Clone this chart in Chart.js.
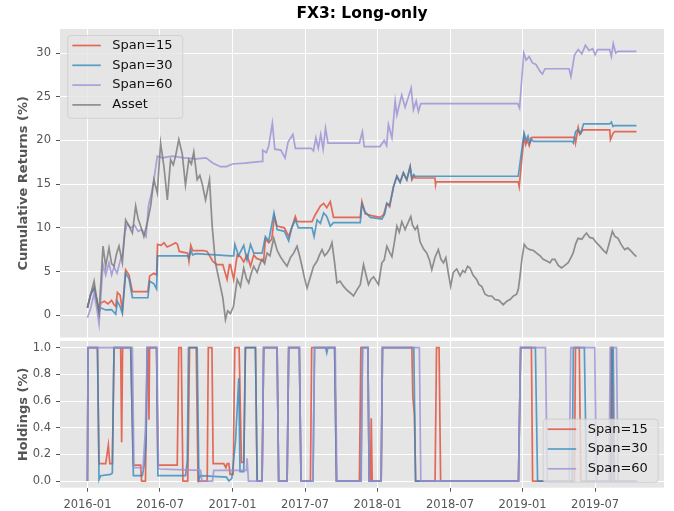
<!DOCTYPE html>
<html>
<head>
<meta charset="utf-8">
<title>FX3: Long-only</title>
<script src="https://cdn.jsdelivr.net/npm/chart.js@4.4.1/dist/chart.umd.min.js"></script>
<style>
  html, body { margin: 0; padding: 0; background: #ffffff; }
  #wrap { position: relative; width: 674px; height: 511px; }
  canvas { position: absolute; left: 0; }
  #returnsChart { top: 0; }
  #holdingsChart { top: 339px; }
</style>
</head>
<body>
<div id="wrap">
  <canvas id="returnsChart" width="674" height="339"></canvas>
  <canvas id="holdingsChart" width="674" height="172"></canvas>
</div>
<script>
// x values are months counted from 2016-01
const xTickMonths = [0, 6, 12, 18, 24, 30, 36, 42];
const xTickLabels = ['2016-01', '2016-07', '2017-01', '2017-07', '2018-01', '2018-07', '2019-01', '2019-07'];
const returnTicks = [0, 5, 10, 15, 20, 25, 30];
const holdingTicks = [0, 0.2, 0.4, 0.6, 0.8, 1.0];

// Cumulative returns (%)
const span15Returns = [
    [0, 0.85], [0.27, 2.4], [0.55, 3.2], [0.77, 1.8], [0.96, 0.3], [1.1, 1.4], [1.4, 1.6], [1.7, 1.3],
    [2.0, 1.7], [2.2, 1.2], [2.34, 1.0], [2.48, 2.6], [2.7, 2.3], [2.89, 0.6], [3.16, 5.2], [3.44, 4.6],
    [3.72, 2.7], [5.0, 2.7], [5.15, 4.5], [5.5, 4.8], [5.72, 4.6], [5.8, 8.1], [6.1, 8.0], [6.33, 8.3],
    [6.6, 7.8], [6.9, 8.0], [7.3, 8.3], [7.45, 8.1], [7.6, 7.3], [8.3, 7.1], [8.4, 6.2], [8.55, 8.0],
    [8.7, 7.4], [9.6, 7.4], [9.9, 7.3], [10.35, 6.2], [10.7, 5.8], [11.2, 5.8], [11.55, 4.1], [11.75, 5.8],
    [11.83, 5.8], [12.1, 4.1], [12.39, 6.9], [12.66, 6.7], [12.93, 6.1], [13.2, 6.9], [13.49, 5.6],
    [13.76, 6.9], [14.0, 6.5], [14.58, 6.2], [14.72, 8.7], [15.0, 8.3], [15.25, 8.7], [15.47, 11.3],
    [15.69, 10.2], [16.3, 10.0], [16.65, 9.0], [16.9, 10.0], [17.2, 11.3], [17.34, 10.7], [18.58, 10.7],
    [18.85, 11.5], [19.27, 12.5], [19.54, 12.8], [19.8, 12.3], [20.09, 13.0], [20.36, 11.2], [22.57, 11.2],
    [22.71, 13.0], [22.98, 11.6], [23.5, 11.4], [24.22, 11.2], [24.5, 11.5], [24.77, 12.8], [25.0, 12.4],
    [25.32, 14.7], [25.6, 15.9], [25.87, 15.2], [26.14, 16.3], [26.42, 15.5], [26.7, 17.0], [26.84, 15.5],
    [27.0, 15.9], [27.11, 15.7], [28.75, 15.7], [28.8, 14.9], [28.85, 15.25], [35.64, 15.25], [35.72, 14.7],
    [36.12, 20.5], [36.25, 19.5], [36.4, 20.0], [36.55, 19.4], [36.7, 20.3], [36.85, 20.35], [40.3, 20.35],
    [40.38, 19.7], [40.6, 21.5], [40.73, 20.7], [41.0, 21.2], [43.21, 21.2], [43.27, 20.1], [43.48, 20.8],
    [43.62, 21.0], [45.42, 21.0]
];
const span30Returns = [
    [0, 0.85], [0.27, 2.4], [0.55, 3.0], [0.77, 1.8], [0.96, 0.3], [1.1, 0.85], [1.5, 0.6], [2.0, 0.65],
    [2.34, 0.1], [2.48, 1.6], [2.7, 1.0], [2.89, 0.2], [3.16, 4.8], [3.44, 4.2], [3.72, 2.0], [5.0, 2.0],
    [5.15, 3.9], [5.5, 3.6], [5.72, 3.0], [5.8, 6.8], [8.25, 6.8], [8.4, 6.6], [8.55, 7.4], [8.7, 6.9],
    [9.0, 7.05], [11.83, 6.8], [12.1, 6.8], [12.2, 8.1], [12.5, 6.8], [12.93, 8.0], [13.2, 6.3], [13.49, 8.1],
    [13.76, 7.1], [14.45, 7.1], [14.72, 9.0], [15.0, 8.5], [15.43, 11.7], [15.69, 9.8], [16.3, 9.6],
    [16.65, 8.5], [16.9, 10.0], [17.2, 10.9], [17.45, 10.0], [18.58, 10.0], [18.75, 9.0], [19.0, 10.9],
    [19.27, 10.5], [19.54, 11.7], [19.8, 11.3], [20.09, 10.2], [20.36, 10.6], [22.57, 10.6], [22.71, 12.7],
    [22.98, 11.8], [23.4, 11.2], [24.36, 11.0], [24.6, 11.6], [24.77, 12.8], [25.0, 12.6], [25.32, 14.7],
    [25.6, 15.9], [25.87, 15.2], [26.14, 16.3], [26.42, 15.5], [26.7, 17.0], [26.84, 15.7], [27.0, 16.1],
    [27.11, 15.9], [35.64, 15.9], [36.12, 20.85], [36.3, 20.0], [36.45, 20.5], [36.6, 19.7], [36.75, 20.1],
    [36.9, 19.9], [40.1, 19.9], [40.2, 19.7], [40.38, 21.0], [40.55, 21.2], [40.8, 20.8], [41.05, 21.9],
    [43.21, 21.9], [43.35, 22.1], [43.48, 21.6], [43.6, 21.7], [45.42, 21.7]
];
const span60Returns = [
    [0, -0.3], [0.27, 0.8], [0.55, 2.5], [0.77, 0.8], [0.96, -1.0], [1.1, 2.0], [1.29, 5.8], [1.51, 4.6],
    [1.78, 6.0], [2.0, 4.6], [2.2, 5.5], [2.45, 4.8], [2.7, 6.2], [2.9, 7.0], [3.1, 9.5], [3.3, 10.5],
    [3.6, 10.0], [3.9, 10.3], [4.2, 9.6], [4.5, 9.8], [4.85, 9.0], [5.05, 12.5], [5.3, 14.0], [5.5, 15.5],
    [5.78, 18.2], [6.2, 18.0], [7.0, 18.2], [8.0, 18.0], [9.0, 17.9], [9.8, 18.0], [10.4, 17.4], [11.0, 17.0],
    [11.5, 17.0], [12.0, 17.3], [13.0, 17.4], [14.45, 17.6], [14.5, 18.9], [14.8, 18.6], [15.0, 19.4],
    [15.3, 22.0], [15.5, 19.0], [16.0, 18.9], [16.35, 18.0], [16.6, 19.8], [17.0, 20.7], [17.2, 19.1],
    [18.5, 19.1], [18.7, 18.8], [18.9, 20.3], [19.1, 19.1], [19.3, 20.7], [19.5, 19.0], [19.7, 21.4],
    [19.9, 19.7], [22.5, 19.7], [22.75, 21.0], [22.9, 19.3], [24.2, 19.3], [24.55, 20.0], [24.75, 19.4],
    [24.9, 21.8], [25.19, 20.3], [25.46, 24.5], [25.6, 22.9], [26.0, 25.2], [26.28, 23.8], [26.56, 25.0],
    [26.78, 26.0], [26.97, 23.5], [27.2, 24.5], [27.38, 23.3], [27.58, 24.2], [35.6, 24.2], [35.75, 23.7],
    [36.1, 30.0], [36.3, 29.2], [36.55, 29.6], [36.8, 28.9], [37.1, 28.7], [37.45, 27.9], [37.65, 27.6],
    [37.85, 28.2], [39.85, 28.2], [40.0, 27.3], [40.3, 29.8], [40.6, 30.4], [40.9, 29.9], [41.2, 30.9],
    [41.5, 30.3], [41.8, 30.5], [42.0, 29.8], [42.2, 30.4], [43.2, 30.4], [43.35, 29.6], [43.5, 31.1],
    [43.7, 30.0], [43.9, 30.2], [45.42, 30.2]
];
const assetReturns = [
    [0, 0.85], [0.27, 2.4], [0.55, 3.9], [0.77, 1.8], [0.96, 0.3], [1.29, 7.9], [1.51, 5.6], [1.78, 7.7],
    [2.0, 5.9], [2.2, 5.6], [2.4, 7.0], [2.61, 7.9], [2.89, 6.0], [3.16, 10.9], [3.44, 10.2], [3.72, 9.4],
    [3.99, 12.5], [4.2, 11.0], [4.4, 10.2], [4.67, 9.0], [5.0, 10.9], [5.23, 12.5], [5.5, 15.5], [5.78, 14.0],
    [6.05, 19.7], [6.33, 17.0], [6.61, 13.2], [6.88, 17.8], [7.1, 17.2], [7.29, 18.2], [7.56, 20.1],
    [7.84, 18.5], [8.11, 14.9], [8.39, 17.8], [8.6, 17.3], [8.8, 18.7], [9.08, 15.5], [9.3, 16.0], [9.5, 15.0],
    [9.77, 13.2], [10.1, 15.5], [10.32, 10.2], [10.59, 6.0], [11.0, 3.3], [11.2, 2.0], [11.42, -0.5],
    [11.6, 0.5], [11.83, 0.2], [12.08, 1.0], [12.39, 4.1], [12.66, 3.3], [12.93, 5.4], [13.15, 4.2],
    [13.34, 3.7], [13.55, 4.8], [13.76, 5.6], [14.04, 4.9], [14.25, 5.8], [14.45, 6.4], [14.66, 5.9],
    [14.86, 7.1], [15.1, 6.8], [15.41, 8.8], [15.7, 7.4], [15.96, 6.7], [16.2, 6.2], [16.51, 5.6],
    [16.8, 6.6], [17.06, 7.1], [17.34, 7.9], [17.55, 6.8], [17.75, 5.6], [17.95, 4.3], [18.17, 3.1],
    [18.45, 4.4], [18.71, 5.6], [19.0, 6.2], [19.2, 6.9], [19.41, 7.5], [19.62, 6.8], [19.82, 7.1],
    [20.05, 7.6], [20.23, 8.3], [20.45, 6.0], [20.64, 3.7], [20.9, 3.9], [21.19, 3.3], [21.45, 2.9],
    [21.7, 2.6], [22.01, 2.2], [22.3, 2.9], [22.57, 3.5], [22.84, 5.8], [23.05, 4.6], [23.25, 3.5],
    [23.45, 4.1], [23.67, 4.4], [23.9, 3.9], [24.08, 3.5], [24.36, 6.0], [24.55, 6.3], [24.77, 7.9],
    [25.0, 7.2], [25.19, 6.7], [25.4, 8.4], [25.6, 10.2], [25.8, 9.5], [26.01, 10.7], [26.28, 9.8],
    [26.5, 10.5], [26.75, 11.3], [26.9, 10.3], [27.11, 9.8], [27.3, 10.2], [27.52, 8.4], [27.8, 7.6],
    [28.08, 7.1], [28.3, 6.3], [28.49, 5.2], [28.75, 6.6], [29.03, 7.5], [29.25, 6.4], [29.45, 6.0],
    [29.65, 6.6], [29.86, 4.8], [30.05, 3.3], [30.27, 4.9], [30.55, 5.3], [30.83, 4.5], [31.05, 5.1],
    [31.24, 4.9], [31.45, 5.6], [31.65, 5.4], [31.9, 4.6], [32.2, 4.1], [32.4, 3.5], [32.62, 3.3],
    [32.9, 2.4], [33.16, 2.2], [33.45, 2.2], [33.72, 1.8], [34.05, 1.7], [34.4, 1.2], [34.7, 1.6],
    [34.96, 1.8], [35.25, 2.2], [35.51, 2.4], [35.65, 3.0], [35.79, 4.5], [35.95, 6.5], [36.14, 8.1],
    [36.35, 7.7], [36.61, 7.5], [36.9, 7.4], [37.16, 7.1], [37.45, 6.8], [37.7, 6.4], [38.0, 6.2],
    [38.26, 6.0], [38.45, 6.4], [38.67, 6.4], [38.95, 5.7], [39.22, 5.4], [39.5, 5.7], [39.77, 6.0],
    [40.0, 6.6], [40.18, 7.1], [40.4, 8.2], [40.59, 8.8], [40.9, 8.7], [41.1, 9.1], [41.29, 9.4],
    [41.55, 8.9], [41.83, 8.8], [42.1, 8.3], [42.39, 7.9], [42.7, 7.4], [42.94, 7.1], [43.2, 8.4],
    [43.43, 9.6], [43.65, 9.0], [43.9, 8.8], [44.15, 8.1], [44.45, 7.5], [44.7, 7.7], [45.0, 7.3],
    [45.2, 7.0], [45.42, 6.7]
];

// Holdings (0..1)
const span15Holdings = [
    [0, 0], [0.05, 1], [0.83, 1], [0.96, 0.13], [1.51, 0.13], [1.62, 0.2], [1.73, 0.27], [1.85, 0.13],
    [2.06, 0.13], [2.2, 1], [2.75, 1], [2.83, 0.29], [2.91, 1], [3.58, 1], [3.8, 0.12], [4.4, 0.12],
    [4.48, 0], [4.8, 0], [4.95, 1], [5.05, 1], [5.09, 0.46], [5.14, 1], [5.72, 1], [5.83, 0.12],
    [7.43, 0.12], [7.56, 1], [7.76, 1], [7.9, 0], [8.3, 0], [8.45, 1], [9.0, 1], [9.15, 0], [9.91, 0],
    [10.0, 1], [10.3, 1], [10.4, 0.13], [11.28, 0.13], [11.45, 0.1], [11.56, 0.13], [11.7, 0.13],
    [11.8, 0.05], [12.05, 0.05], [12.19, 1], [12.55, 1], [12.74, 0.14], [12.93, 0.14], [13.07, 1],
    [13.9, 1], [14.04, 0], [14.45, 0], [14.58, 1], [15.69, 1], [15.82, 0], [16.52, 0], [16.65, 1],
    [17.53, 1], [17.67, 0], [18.45, 0], [18.55, 1], [20.45, 1], [20.6, 0], [22.5, 0], [22.62, 1],
    [23.2, 1], [23.31, 0], [23.42, 0], [23.48, 0.47], [23.56, 0], [24.3, 0], [24.41, 1], [26.84, 1],
    [26.92, 0.63], [27.05, 0.5], [27.15, 0], [28.76, 0], [28.88, 1], [29.09, 1], [29.22, 0], [35.66, 0],
    [35.84, 1], [36.73, 1], [36.83, 0], [40.28, 0], [40.38, 1], [40.69, 1], [40.82, 0], [43.25, 0],
    [43.31, 1], [43.4, 1], [43.5, 0], [45.44, 0]
];
const span30Holdings = [
    [0, 0], [0.05, 1], [0.83, 1], [0.96, 0.01], [1.1, 0.04], [1.9, 0.05], [2.06, 0.06], [2.2, 1], [3.58, 1],
    [3.8, 0.04], [4.54, 0.04], [4.7, 0.12], [4.85, 0.3], [4.95, 1], [5.72, 1], [5.83, 0.04], [8.12, 0.04],
    [8.26, 0.15], [8.36, 1], [9.08, 1], [9.22, 0.01], [9.36, 0.04], [11.5, 0.03], [11.7, 0.0], [11.95, 0.02],
    [12.25, 0.3], [12.52, 0.77], [12.62, 0.07], [12.93, 0.07], [13.07, 1], [13.9, 1], [14.04, 0], [14.45, 0],
    [14.58, 1], [15.69, 1], [15.82, 0], [16.52, 0], [16.65, 1], [17.53, 1], [17.67, 0], [18.66, 0],
    [18.79, 1], [19.7, 1], [19.8, 0.96], [19.9, 1], [20.45, 1], [20.6, 0], [22.62, 0], [22.76, 1], [23.2, 1],
    [23.31, 0], [24.3, 0], [24.41, 1], [27.0, 1], [27.15, 0], [35.66, 0], [35.84, 1], [37.06, 1], [37.24, 0],
    [40.1, 0], [40.2, 1], [41.11, 1], [41.29, 0], [43.31, 0], [43.4, 1], [43.5, 1], [43.6, 0], [45.44, 0]
];
const span60Holdings = [
    [0, 0], [0.05, 1], [3.72, 1], [3.85, 0.1], [4.6, 0.1], [4.8, 0.4], [4.95, 1], [5.72, 1], [5.89, 0.09],
    [9.36, 0.08], [9.48, 0], [10.35, 0], [10.45, 0.08], [13.15, 0.08], [13.21, 0.17], [13.32, 0], [14.45, 0],
    [14.58, 1], [15.69, 1], [15.82, 0], [16.52, 0], [16.65, 1], [17.53, 1], [17.67, 0], [18.66, 0], [18.79, 1],
    [20.5, 1], [20.64, 0], [22.65, 0], [22.76, 1], [23.2, 1], [23.31, 0], [24.3, 0], [24.41, 1], [27.46, 1],
    [27.58, 0], [35.66, 0], [35.84, 1], [37.89, 1], [38.05, 0], [39.85, 0], [39.99, 1], [41.97, 1],
    [42.11, 0], [43.15, 0], [43.25, 1], [43.77, 1], [43.9, 0], [45.44, 0]
];

// ggplot style colours
const colors = {
    span15: 'rgba(226, 74, 51, 0.8)',
    span30: 'rgba(52, 138, 189, 0.8)',
    span60: 'rgba(152, 142, 213, 0.8)',
    asset: 'rgba(119, 119, 119, 0.8)'
};

Chart.defaults.font.family = "'DejaVu Sans', sans-serif";
Chart.defaults.color = '#555555';

// grey panel behind the grid
const panelBackground = {
    id: 'panelBackground',
    beforeDraw(chart) {
        const { ctx, chartArea } = chart;
        ctx.save();
        ctx.fillStyle = '#E5E5E5';
        ctx.fillRect(chartArea.left, chartArea.top, chartArea.right - chartArea.left, chartArea.bottom - chartArea.top);
        ctx.restore();
    }
};

// matplotlib-like legend drawn inside the axes
const boxLegend = {
    id: 'boxLegend',
    afterDatasetsDraw(chart, args, opts) {
        const { ctx, chartArea } = chart;
        const items = chart.data.datasets;
        const rowH = 19.8;
        const w = 115;
        const h = items.length * rowH + 3.6;
        let x = chartArea.left + 7.3;
        let y = chartArea.top + 6;
        if (opts.corner === 'bottomRight') {
            x = chartArea.right - 6.3 - w;
            y = chartArea.bottom - 6 - h;
        }

        ctx.save();
        ctx.beginPath();
        ctx.roundRect(x + 0.5, y + 0.5, w, h, 3);
        ctx.fillStyle = 'rgba(229, 229, 229, 0.8)';
        ctx.fill();
        ctx.strokeStyle = 'rgba(204, 204, 204, 0.8)';
        ctx.lineWidth = 1;
        ctx.stroke();

        ctx.font = "13px 'DejaVu Sans', sans-serif";
        ctx.textBaseline = 'middle';
        ctx.textAlign = 'left';
        items.forEach((ds, i) => {
            const cy = y + 10.5 + i * rowH;
            ctx.beginPath();
            ctx.moveTo(x + 5, cy);
            ctx.lineTo(x + 33.5, cy);
            ctx.strokeStyle = ds.borderColor;
            ctx.lineWidth = 1.7;
            ctx.stroke();
            ctx.fillStyle = '#111111';
            ctx.fillText(ds.label, x + 45, cy);
        });
        ctx.restore();
    }
};

function setTicks(values) {
    return scale => {
        scale.ticks = values.map(v => ({ value: v }));
    };
}

function fitSize(size) {
    return scale => {
        if (scale.isHorizontal()) {
            scale.height = size;
        } else {
            scale.width = size;
        }
        scale.paddingTop = 0;
        scale.paddingBottom = 0;
        scale.paddingLeft = 0;
        scale.paddingRight = 0;
    };
}

function lineDataset(label, data, color, order) {
    return {
        label: label,
        data: data,
        borderColor: color,
        backgroundColor: color,
        borderWidth: 1.7,
        pointRadius: 0,
        tension: 0,
        fill: false,
        order: order
    };
}

function xAxis(showLabels, height) {
    return {
        type: 'linear',
        min: -2.27,
        max: 47.7,
        afterBuildTicks: setTicks(xTickMonths),
        afterFit: fitSize(height),
        border: { display: false },
        grid: {
            color: '#FFFFFF',
            lineWidth: 1,
            drawTicks: showLabels,
            tickLength: 4,
            tickColor: '#555555'
        },
        ticks: {
            display: showLabels,
            autoSkip: false,
            maxRotation: 0,
            padding: 6,
            color: '#555555',
            font: { size: 11.5 },
            callback: (value, index) => xTickLabels[index]
        }
    };
}

function yAxis(min, max, tickValues, title, format) {
    return {
        type: 'linear',
        min: min,
        max: max,
        afterBuildTicks: setTicks(tickValues),
        afterFit: fitSize(60),
        border: { display: false },
        grid: {
            color: '#FFFFFF',
            lineWidth: 1,
            tickLength: 4,
            tickColor: '#555555'
        },
        ticks: {
            padding: 5,
            color: '#555555',
            font: { size: 11.5 },
            callback: format
        },
        title: {
            display: true,
            text: title,
            color: '#555555',
            font: { size: 13, weight: 'bold' },
            padding: { top: 16, bottom: 0 }
        }
    };
}

const returnsChart = new Chart(document.getElementById('returnsChart'), {
    type: 'line',
    data: {
        datasets: [
            lineDataset('Span=15', span15Returns, colors.span15, 4),
            lineDataset('Span=30', span30Returns, colors.span30, 3),
            lineDataset('Span=60', span60Returns, colors.span60, 2),
            lineDataset('Asset', assetReturns, colors.asset, 1)
        ]
    },
    options: {
        responsive: false,
        animation: false,
        events: [],
        devicePixelRatio: 1,
        layout: { padding: { left: 0, right: 10, top: 0, bottom: 1.5 } },
        scales: {
            x: xAxis(false, 0),
            y: yAxis(-2.55, 32.75, returnTicks, 'Cumulative Returns (%)', value => String(value))
        },
        plugins: {
            legend: { display: false },
            tooltip: { enabled: false },
            title: {
                display: true,
                text: 'FX3: Long-only',
                fullSize: false,
                color: '#000000',
                font: { size: 15.5, weight: 'bold' },
                padding: { top: 5, bottom: 5.4 }
            },
            boxLegend: { corner: 'topLeft' }
        }
    },
    plugins: [panelBackground, boxLegend]
});

const holdingsChart = new Chart(document.getElementById('holdingsChart'), {
    type: 'line',
    data: {
        datasets: [
            lineDataset('Span=15', span15Holdings, colors.span15, 3),
            lineDataset('Span=30', span30Holdings, colors.span30, 2),
            lineDataset('Span=60', span60Holdings, colors.span60, 1)
        ]
    },
    options: {
        responsive: false,
        animation: false,
        events: [],
        devicePixelRatio: 1,
        layout: { padding: { left: 0, right: 10, top: 2, bottom: 0 } },
        scales: {
            x: xAxis(true, 23.3),
            y: yAxis(-0.05, 1.05, holdingTicks, 'Holdings (%)', value => value.toFixed(1))
        },
        plugins: {
            legend: { display: false },
            tooltip: { enabled: false },
            boxLegend: { corner: 'bottomRight' }
        }
    },
    plugins: [panelBackground, boxLegend]
});
</script>
</body>
</html>
